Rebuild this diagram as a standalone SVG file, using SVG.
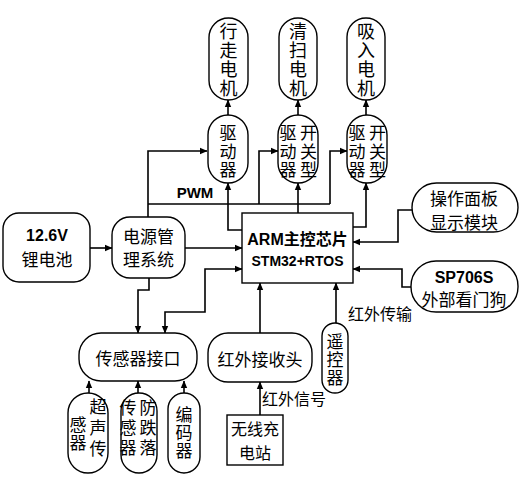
<svg xmlns="http://www.w3.org/2000/svg" width="529" height="483" viewBox="0 0 529 483">
<defs>
<marker id="ah" markerWidth="8" markerHeight="8" refX="7" refY="4" orient="auto-start-reverse" markerUnits="userSpaceOnUse">
<path d="M0,0.8 L7.5,4 L0,7.2 Z" fill="#000"/>
</marker>
<style>
.box{fill:#fff;stroke:#000;stroke-width:1.4}
.ln{fill:none;stroke:#000;stroke-width:1.6}
.ar{marker-end:url(#ah)}
.t{font-family:"Noto Sans CJK SC","Liberation Sans",sans-serif;font-size:17px;fill:#000;text-anchor:middle;dominant-baseline:central}
.v{font-family:"Noto Sans CJK SC",sans-serif;font-size:17px;fill:#000;text-anchor:middle;writing-mode:vertical-rl;text-orientation:upright}
.b{font-family:"Liberation Sans","Noto Sans CJK SC",sans-serif;font-weight:bold}
</style>
</defs>
<rect width="529" height="483" fill="#fff"/>
<g id="connectors">
<path class="ln ar" d="M228,115 V100"/>
<path class="ln ar" d="M298,115 V100"/>
<path class="ln ar" d="M366,115 V100"/>
<path class="ln ar" d="M148,218 V151 H207"/>
<path class="ln" d="M148,204 H330"/>
<path class="ln ar" d="M259,204 V151 H278"/>
<path class="ln ar" d="M330,204 V151 H347"/>
<path class="ln ar" d="M242,230 H228 V183"/>
<path class="ln ar" d="M298,213 V183"/>
<path class="ln ar" d="M353,227 H366 V183"/>
<path class="ln ar" d="M90,248 H112"/>
<path class="ln ar" d="M185,248 H242"/>
<path class="ln ar" d="M165,333 V312 H205 V269 H242" style="marker-start:url(#ah)"/>
<path class="ln ar" d="M149,278 V290 H138 V333"/>
<path class="ln ar" d="M89,393 V381"/>
<path class="ln ar" d="M138,393 V381"/>
<path class="ln ar" d="M184,393 V381"/>
<path class="ln ar" d="M260,333 V283"/>
<path class="ln ar" d="M260,415 V382"/>
<path class="ln ar" d="M336,323 V283"/>
<path class="ln ar" d="M412,210 H398 V242 H353"/>
<path class="ln ar" d="M412,287 H402 V269 H353"/>
<text class="t b" x="195" y="192" style="font-size:15px">PWM</text>
<text class="t" x="262" y="398" style="text-anchor:start;font-size:16px">红外信号</text>
<text class="t" x="348" y="313" style="text-anchor:start;font-size:16px">红外传输</text>
</g>
<g id="motor1">
<rect class="box" x="209" y="18" width="39" height="82" rx="19.5"/>
<text class="v" x="228.5" y="60" style="font-size:18px;letter-spacing:1px">行走电机</text>
</g>
<g id="motor2">
<rect class="box" x="279" y="18" width="38" height="82" rx="19"/>
<text class="v" x="298" y="60" style="font-size:18px;letter-spacing:1px">清扫电机</text>
</g>
<g id="motor3">
<rect class="box" x="347" y="18" width="38" height="82" rx="19"/>
<text class="v" x="366" y="60" style="font-size:18px;letter-spacing:1px">吸入电机</text>
</g>
<g id="driver1">
<rect class="box" x="208" y="115" width="40" height="68" rx="20"/>
<text class="v" x="228" y="152" style="letter-spacing:1.5px">驱动器</text>
</g>
<g id="driver2">
<rect class="box" x="278" y="115" width="40" height="68" rx="20"/>
<text class="v" x="288" y="152" style="letter-spacing:1.5px">驱动器</text>
<text class="v" x="308.5" y="152" style="letter-spacing:1.5px">开关型</text>
</g>
<g id="driver3">
<rect class="box" x="347" y="115" width="40" height="68" rx="20"/>
<text class="v" x="357" y="152" style="letter-spacing:1.5px">驱动器</text>
<text class="v" x="377.5" y="152" style="letter-spacing:1.5px">开关型</text>
</g>
<g id="battery">
<rect class="box" x="3" y="213" width="87" height="69" rx="16"/>
<text class="t b" x="47" y="235" style="font-size:16px">12.6V</text>
<text class="t" x="47" y="258">锂电池</text>
</g>
<g id="power">
<rect class="box" x="112" y="217" width="73" height="61" rx="18"/>
<text class="t" x="148.5" y="235">电源管</text>
<text class="t" x="148.5" y="258">理系统</text>
</g>
<g id="arm">
<rect class="box" x="242" y="213" width="111" height="70"/>
<text class="t b" x="297.5" y="239" style="font-size:16px">ARM主控芯片</text>
<text class="t b" x="297.5" y="261" style="font-size:14px">STM32+RTOS</text>
</g>
<g id="panel">
<rect class="box" x="412" y="183" width="106" height="49" rx="24.5"/>
<text class="t" x="464" y="197">操作面板</text>
<text class="t" x="464" y="221">显示模块</text>
</g>
<g id="watchdog">
<rect class="box" x="411" y="261" width="107" height="51" rx="25"/>
<text class="t b" x="464" y="277" style="font-size:16px">SP706S</text>
<text class="t" x="464" y="298">外部看门狗</text>
</g>
<g id="sensoriface">
<rect class="box" x="79" y="333" width="118" height="48" rx="22"/>
<text class="t" x="138" y="357">传感器接口</text>
</g>
<g id="ultrasonic">
<rect class="box" x="68" y="393" width="40" height="80" rx="20"/>
<text class="v" x="98" y="430" style="letter-spacing:4px">超声传</text>
<text class="v" x="78" y="434" style="letter-spacing:1px">感器</text>
</g>
<g id="cliff">
<rect class="box" x="121" y="393" width="36" height="80" rx="18"/>
<text class="v" x="128" y="429" style="letter-spacing:3px">传感器</text>
<text class="v" x="148" y="429" style="letter-spacing:3px">防跌落</text>
</g>
<g id="encoder">
<rect class="box" x="168" y="393" width="32" height="80" rx="16"/>
<text class="v" x="184" y="433" style="letter-spacing:1px">编码器</text>
</g>
<g id="irreceiver">
<rect class="box" x="208" y="333" width="104" height="49" rx="20"/>
<text class="t" x="260" y="358">红外接收头</text>
</g>
<g id="remote">
<rect class="box" x="322" y="323" width="26" height="70" rx="13"/>
<text class="v" x="335" y="360" style="letter-spacing:1px">遥控器</text>
</g>
<g id="charger">
<rect class="box" x="227" y="415" width="56" height="50"/>
<text class="t" x="255" y="428" style="font-size:16px">无线充</text>
<text class="t" x="255" y="452" style="font-size:16px">电站</text>
</g>
</svg>
